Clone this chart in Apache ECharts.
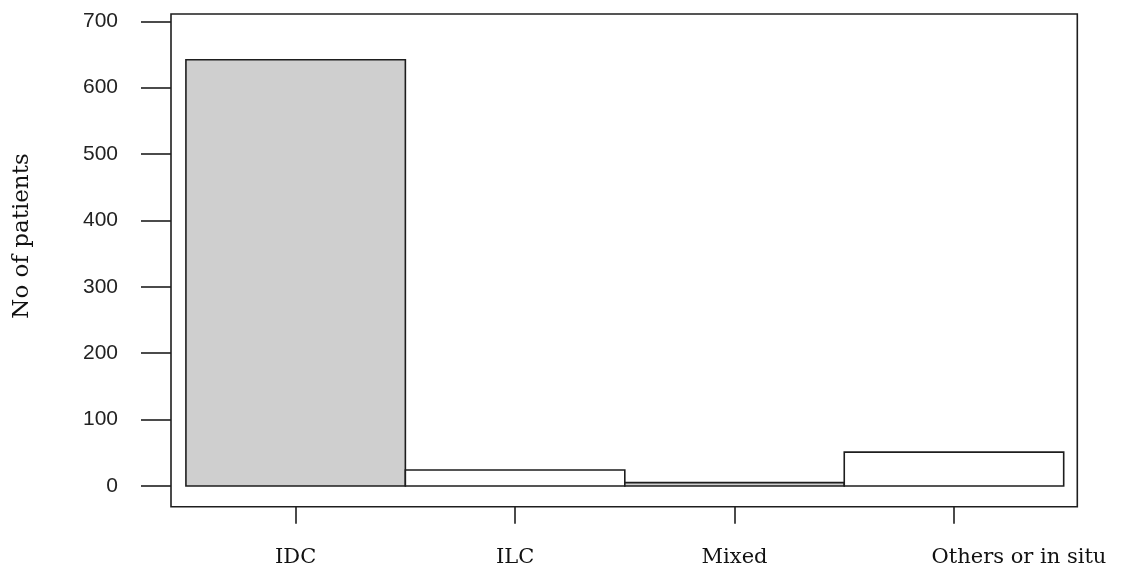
<!DOCTYPE html>
<html>
<head>
<meta charset="utf-8">
<script src="https://cdn.jsdelivr.net/npm/echarts@6/dist/echarts.min.js"></script>
<style>html,body{margin:0;padding:0;background:#fff;}#c{width:1127px;height:577px;}</style>
</head>
<body>
<div id="c"></div>
<script>
const categories = ['IDC', 'ILC', 'Mixed', 'Others or in situ'];
const counts = [642, 24, 5, 51];
const fills = ['#cfcfcf', '#ffffff', '#cfcfcf', '#ffffff'];
const yTicks = [0, 100, 200, 300, 400, 500, 600, 700];
const yTitle = 'No of patients';

const chart = echarts.init(document.getElementById('c'), null, {renderer: 'canvas'});
const lineColor = '#1e1e1e';
const lw = 1.6;
const seriesData = counts.map((v, i) => [i, v]);

chart.setOption({
  animation: false,
  backgroundColor: '#fff',
  grid: {
    left: 171, right: 49.7, top: 14, bottom: 70.3,
    show: true, borderColor: lineColor, borderWidth: lw, backgroundColor: 'transparent'
  },
  xAxis: {
    type: 'value',
    position: 'bottom',
    min: -0.568, max: 3.562,
    splitLine: {show: false},
    axisLine: {show: false, onZero: false},
    axisTick: {show: true, length: 17, lineStyle: {color: lineColor, width: lw}, customValues: categories.map((c, i) => i)},
    axisLabel: {
      show: true, margin: 40, customValues: categories.map((c, i) => i),
      formatter: v => {
        const i = Math.round(v);
        return i === categories.length - 1 ? '{last|' + categories[i] + '}' : categories[i];
      },
      rich: {
        last: {fontFamily: 'DejaVu Serif', fontSize: 21, color: '#111', padding: [0, 0, 0, 130]}
      },
      fontFamily: 'DejaVu Serif', fontSize: 21, color: '#111'
    }
  },
  yAxis: {
    type: 'value',
    position: 'left',
    min: -31.2, max: 711,
    splitLine: {show: false},
    axisLine: {show: false, onZero: false},
    axisTick: {show: true, length: 30, lineStyle: {color: lineColor, width: lw}, customValues: yTicks},
    axisLabel: {
      show: true, margin: 53, customValues: yTicks,
      fontFamily: 'Liberation Sans', fontSize: 21, color: '#222'
    }
  },
  graphic: [{
    type: 'text',
    x: 22, y: 236,
    rotation: Math.PI / 2,
    style: {
      text: yTitle, fontFamily: 'DejaVu Serif', fontSize: 23, fill: '#111',
      align: 'center', verticalAlign: 'middle'
    }
  }],
  series: [{
    type: 'custom',
    data: seriesData,
    renderItem: function (params, api) {
      const i = api.value(0), v = api.value(1);
      const p0 = api.coord([i - 0.5, v]);
      const p1 = api.coord([i + 0.5, 0]);
      return {
        type: 'rect',
        shape: {x: p0[0], y: p0[1], width: p1[0] - p0[0], height: p1[1] - p0[1]},
        style: {fill: fills[i], stroke: lineColor, lineWidth: lw}
      };
    }
  }]
});
</script>
</body>
</html>
